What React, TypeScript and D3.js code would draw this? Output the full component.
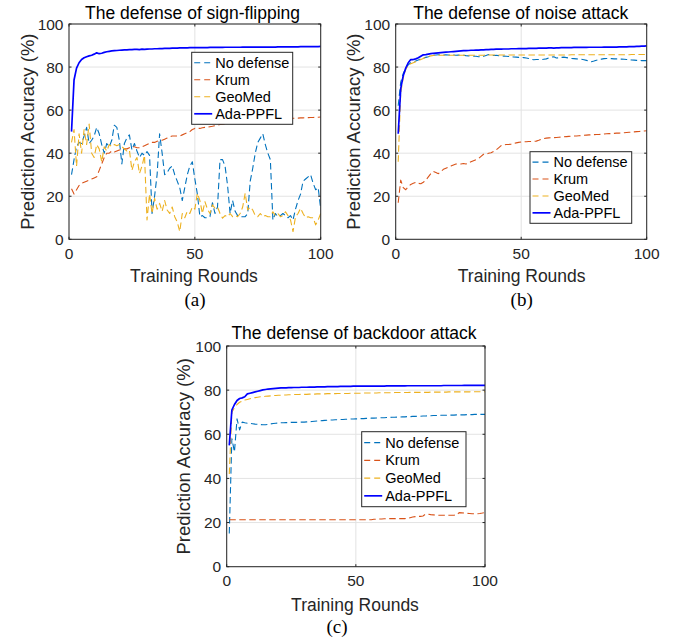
import React from "react";
import * as d3 from "d3";

// ---------- DATA ----------
const ROUNDS = Array.from({ length: 100 }, (_, i) => i + 1);
const SERIES_NAMES = ["No defense", "Krum", "GeoMed", "Ada-PPFL"];
const X_TICKS = [0, 50, 100];
const Y_TICKS = [0, 20, 40, 60, 80, 100];
const TITLES = ["The defense of sign-flipping", "The defense of noise attack", "The defense of backdoor attack"];
const CAPTIONS = ["(a)", "(b)", "(c)"];
const X_LABEL = "Training Rounds";
const Y_LABEL = "Prediction Accuracy (%)";

// (a) sign-flipping
const signNoDefense = [
  30, 37, 43, 45, 44.5, 48, 52, 44.5, 46, 48,
  52, 49, 44, 40, 44.5, 43, 46, 53, 52, 46,
  35, 44.5, 47, 48.5, 41.5, 44.5, 41, 38, 40, 39,
  40.7, 39, 12, 20, 30, 49, 40, 30, 31, 33,
  34, 30, 27, 24, 18, 24, 30, 34, 36, 28,
  21, 10.5, 11, 10, 10, 10.5, 17, 12, 15, 37,
  37, 34, 25, 12, 18, 13, 11, 10.5, 10.5, 10.5,
  12, 27, 33, 40, 45, 47, 49, 44, 40, 37,
  9, 12, 10.5, 11, 12, 11, 10, 11, 9, 14,
  18, 21, 27, 28, 29, 30, 26, 23, 24, 14,
];
const signKrum = [
  23.5, 21, 23, 25, 26, 26.5, 27, 27.5, 28, 28.5,
  29, 32, 35, 38, 40, 40, 41, 40.5, 41, 41.5,
  41.5, 42, 42, 42.5, 43, 43, 42.5, 42.5, 43, 43.5,
  44, 44.5, 45, 45, 45.5, 46, 46, 46.5, 47, 47.5,
  48, 48, 48, 48, 48.5, 49, 49.5, 50, 51, 51.5,
  51.5, 51.5, 51.8, 52, 52, 52.3, 52.5, 52.8, 53, 53.3,
  53.5, 53.6, 53.8, 54, 54, 54.2, 54.4, 54.5, 54.6, 54.8,
  55, 55, 55.1, 55.2, 55.3, 55.4, 55.5, 55.5, 55.6, 55.7,
  55.8, 55.8, 55.9, 56, 56, 56.1, 56.1, 56.2, 56.2, 56.3,
  56.3, 56.4, 56.4, 56.5, 56.5, 56.6, 56.6, 56.7, 56.7, 56.8,
];
const signGeoMed = [
  45, 51, 34, 49, 40, 51, 44, 53.5, 40, 38,
  44, 42, 36, 43, 41, 44, 43, 44, 43.5, 44,
  43, 42, 41, 41.5, 32, 36, 38, 30.6, 34, 39,
  9, 21, 12, 19, 14, 16.7, 13, 18, 13.6, 12,
  15, 10.5, 8, 3.6, 12, 10, 13, 12, 15, 14,
  21.4, 18, 12, 17.5, 14, 12, 16, 14.4, 15, 12,
  9.8, 11, 10.5, 12, 10.5, 11, 10.5, 12, 15, 21.4,
  13.6, 15, 13.6, 11, 10.5, 12, 10.5, 11, 10.5, 10.5,
  12.8, 11, 12, 10.5, 11, 12.8, 11, 9, 3.6, 10.5,
  12, 14.4, 12, 10, 10.5, 10, 10, 6.7, 9, 12,
];
const signAda = [
  50, 74, 79.5, 82, 83.5, 84.3, 84.8, 85.2, 85.5, 86,
  86.6, 86.2, 86.4, 86.8, 87.1, 87.3, 87.5, 87.6, 87.7, 87.8,
  87.9, 88, 88, 88.1, 88.1, 88.2, 88.2, 88.1, 88.3, 88.2,
  88.3, 88.4, 88.4, 88.5, 88.5, 88.6, 88.6, 88.7, 88.7, 88.7,
  88.8, 88.8, 88.8, 88.9, 88.9, 88.9, 88.9, 89, 89, 89,
  89, 89, 89, 89, 89, 89.1, 89.1, 89.1, 89.1, 89.1,
  89.1, 89.2, 89.2, 89.2, 89.2, 89.2, 89.2, 89.2, 89.3, 89.3,
  89.3, 89.3, 89.3, 89.3, 89.3, 89.3, 89.3, 89.3, 89.3, 89.3,
  89.3, 89.3, 89.4, 89.4, 89.4, 89.4, 89.4, 89.4, 89.4, 89.4,
  89.4, 89.5, 89.5, 89.5, 89.5, 89.5, 89.5, 89.5, 89.5, 89.6,
];

// (b) noise attack
const noiseNoDefense = [
  62, 73, 77, 79.5, 81, 82, 82.3, 82.8, 83.3, 83.8,
  84.2, 84.5, 84.8, 85.2, 85.5, 85.6, 85.7, 85.7, 85.6, 85.7,
  85.6, 85.5, 85.6, 85.5, 85.6, 85.4, 85.5, 85.3, 85.2, 85.3,
  85.1, 85, 84.8, 84.9, 85, 85.4, 85.8, 85.6, 85.4, 85.5,
  85.3, 85.2, 85.1, 85, 84.9, 84.8, 84.7, 84.6, 84.5, 84.5,
  84.4, 84.2, 84, 83.6, 83.4, 83.5, 83.5, 83.4, 83.6, 83.8,
  84.2, 84.6, 84.8, 84.2, 84.3, 84.5, 84.6, 84.4, 84.2, 84,
  83.9, 83.8, 83.7, 83.6, 83.4, 83.1, 82.8, 82.5, 82.8, 83.2,
  83.5, 83.7, 83.9, 84, 84, 83.9, 83.8, 83.8, 83.7, 83.7,
  83.6, 83.5, 83.4, 83.3, 83.2, 83.1, 83.1, 83, 83, 83,
];
const noiseKrum = [
  17, 27.5, 24, 23, 24.5, 25.5, 26, 26.5, 26, 25.8,
  26.5, 27.5, 29, 30.5, 31.5, 31, 30.5, 31.5, 32.5, 33,
  33.5, 34, 34.5, 35, 35, 35, 35.2, 35, 35.5, 36,
  36.5, 37, 37.5, 38.5, 39.5, 39.5, 40, 40.2, 40.8, 41.5,
  42.5, 43.5, 43.8, 44, 44, 44.2, 44.5, 44.8, 45, 45.2,
  45.3, 45.3, 45.4, 45.4, 45.5, 45.6, 46, 46.5, 46.8, 47,
  47.1, 47.2, 47.2, 47.3, 47.4, 47.5, 47.6, 47.7, 47.8, 47.9,
  48, 48, 48.1, 48.2, 48.3, 48.4, 48.5, 48.5, 48.6, 48.7,
  48.7, 48.8, 48.9, 49, 49.1, 49.1, 49.2, 49.3, 49.3, 49.4,
  49.5, 49.6, 49.7, 49.8, 49.9, 50, 50.1, 50.2, 50.3, 50.4,
];
const noiseGeoMed = [
  36, 68, 75, 79, 80.8, 81.5, 82, 82.5, 83, 83.5,
  84, 84.5, 84.9, 85.2, 85.4, 85.5, 85.5, 85.5, 85.5, 85.5,
  85.5, 85.5, 85.5, 85.5, 85.5, 85.5, 85.5, 85.5, 85.5, 85.5,
  85.5, 85.5, 85.5, 85.5, 85.5, 85.6, 85.6, 85.6, 85.6, 85.6,
  85.6, 85.6, 85.6, 85.6, 85.6, 85.6, 85.6, 85.6, 85.6, 85.6,
  85.6, 85.6, 85.6, 85.6, 85.6, 85.6, 85.6, 85.6, 85.6, 85.6,
  85.6, 85.6, 85.6, 85.6, 85.6, 85.6, 85.6, 85.6, 85.6, 85.7,
  85.7, 85.7, 85.7, 85.7, 85.7, 85.7, 85.7, 85.7, 85.7, 85.7,
  85.7, 85.7, 85.7, 85.7, 85.7, 85.7, 85.7, 85.7, 85.7, 85.7,
  85.7, 85.7, 85.7, 85.8, 85.8, 85.8, 85.8, 85.8, 85.8, 85.8,
];
const noiseAda = [
  49, 70, 76, 79.5, 82, 83.5, 83.5, 83.8, 84.3, 85,
  85.7, 85.8, 86, 86.2, 86.4, 86.5, 86.6, 86.7, 86.8, 86.9,
  87, 87.1, 87.2, 87.3, 87.4, 87.5, 87.6, 87.6, 87.7, 87.8,
  87.8, 87.9, 87.9, 88, 88, 88.1, 88.1, 88.2, 88.2, 88.3,
  88.3, 88.3, 88.4, 88.4, 88.4, 88.5, 88.5, 88.5, 88.6, 88.6,
  88.6, 88.6, 88.7, 88.7, 88.7, 88.7, 88.8, 88.8, 88.8, 88.8,
  88.9, 88.9, 88.8, 88.9, 88.9, 89, 89, 89, 89, 89,
  89.1, 89.1, 89.1, 89.1, 89.1, 89.1, 89.2, 89.2, 89.2, 89.2,
  89.2, 89.2, 89.3, 89.3, 89.3, 89.3, 89.3, 89.3, 89.4, 89.4,
  89.4, 89.4, 89.5, 89.5, 89.5, 89.6, 89.6, 89.7, 89.7, 89.8,
];

// (c) backdoor attack
const backdoorNoDefense = [
  15, 58, 52, 67, 62, 65.5, 65.2, 65, 64.9, 64.8,
  64.6, 64.5, 64.4, 64.3, 64.3, 64.5, 64.7, 64.9, 65, 65.1,
  65.2, 65.2, 65.3, 65.3, 65.4, 65.4, 65.4, 65.5, 65.5, 65.5,
  65.6, 65.7, 65.8, 65.9, 66, 66.1, 66.2, 66.3, 66.4, 66.5,
  66.5, 66.6, 66.6, 66.7, 66.7, 66.8, 66.8, 66.9, 66.9, 67,
  67, 67.1, 67.1, 67.2, 67.2, 67.3, 67.3, 67.4, 67.4, 67.5,
  67.5, 67.6, 67.6, 67.7, 67.7, 67.8, 67.8, 67.9, 67.9, 68,
  68, 68.1, 68.1, 68.2, 68.2, 68.3, 68.3, 68.4, 68.4, 68.5,
  68.5, 68.5, 68.6, 68.6, 68.6, 68.7, 68.7, 68.7, 68.8, 68.8,
  68.8, 68.8, 68.9, 68.9, 68.9, 69, 69, 69, 69, 69,
];
const backdoorKrum = [
  21.3, 21.3, 21.3, 21.3, 21.3, 21.3, 21.3, 21.3, 21.3, 21.3,
  21.3, 21.3, 21.3, 21.3, 21.3, 21.3, 21.3, 21.3, 21.3, 21.3,
  21.3, 21.3, 21.3, 21.3, 21.3, 21.3, 21.3, 21.3, 21.3, 21.3,
  21.3, 21.3, 21.3, 21.3, 21.3, 21.3, 21.3, 21.3, 21.3, 21.3,
  21.3, 21.3, 21.3, 21.3, 21.3, 21.3, 21.3, 21.3, 21.3, 21.3,
  21.3, 21.3, 21.3, 21.3, 21.3, 21.3, 21.5, 21.5, 21.6, 21.6,
  21.7, 21.7, 21.8, 21.8, 21.8, 21.8, 21.8, 21.8, 21.8, 21.9,
  22.2, 22.5, 22.7, 22.8, 22.8, 23, 23.8, 23.8, 23.6, 23.5,
  23.4, 23.3, 23.3, 23.3, 23.3, 23.3, 23.3, 23.3, 23.5, 24.5,
  24.4, 24.3, 24.2, 24.1, 24, 24, 24, 24.1, 24.3, 24.6,
];
const backdoorGeoMed = [
  42, 70, 72, 73.5, 74.5, 75, 75.5, 75.8, 76.1, 76.4,
  76.6, 76.8, 77, 77.1, 77.2, 77.3, 77.4, 77.5, 77.6, 77.7,
  77.7, 77.8, 77.8, 77.9, 77.9, 78, 78, 78, 78.1, 78.1,
  78.1, 78.2, 78.2, 78.2, 78.3, 78.3, 78.3, 78.3, 78.4, 78.4,
  78.4, 78.4, 78.5, 78.5, 78.5, 78.5, 78.5, 78.6, 78.6, 78.6,
  78.6, 78.6, 78.7, 78.7, 78.7, 78.7, 78.7, 78.7, 78.8, 78.8,
  78.8, 78.8, 78.8, 78.8, 78.9, 78.9, 78.9, 78.9, 78.9, 78.9,
  79, 79, 79, 79, 79, 79, 79, 79, 79.1, 79.1,
  79.1, 79.1, 79.1, 79.1, 79.1, 79.2, 79.2, 79.2, 79.2, 79.2,
  79.2, 79.2, 79.2, 79.2, 79.3, 79.3, 79.3, 79.3, 79.3, 79.3,
];
const backdoorAda = [
  55, 71, 73.5, 75.3, 76.2, 76.5, 77, 78.3, 78.6, 78.9,
  79.2, 79.5, 79.8, 80.1, 80.3, 80.5, 80.6, 80.7, 80.8, 80.9,
  81, 81, 81, 81.1, 81.1, 81.2, 81.2, 81.2, 81.3, 81.3,
  81.3, 81.4, 81.4, 81.4, 81.5, 81.5, 81.5, 81.5, 81.6, 81.6,
  81.6, 81.6, 81.6, 81.7, 81.7, 81.7, 81.7, 81.7, 81.8, 81.8,
  81.8, 81.8, 81.8, 81.8, 81.8, 81.8, 81.8, 81.8, 81.8, 81.8,
  81.8, 81.9, 81.9, 81.9, 81.9, 81.9, 81.9, 81.9, 81.9, 82,
  82, 82, 82, 82, 82, 82, 82, 82, 82, 82,
  82, 82, 82, 82.1, 82.1, 82.1, 82.1, 82.1, 82.1, 82.1,
  82.1, 82.2, 82.2, 82.2, 82.2, 82.2, 82.2, 82.2, 82.2, 82.2,
];

// ---------- STYLE / LAYOUT ----------
const COLORS = ["#0072BD", "#D95319", "#EDB120", "#0000FF"];
const DASHED = [true, true, true, false];
const SANS = "'Liberation Sans', Arial, Helvetica, sans-serif";
const SERIF = "'Liberation Serif', 'Times New Roman', serif";

const PANELS = [
  {
    data: [signNoDefense, signKrum, signGeoMed, signAda],
    box: { l: 69, r: 320.7, t: 24, b: 239.3 },
    titleX: 192.5, titleY: 19,
    xLabelX: 194, xLabelY: 282,
    captionX: 195, captionY: 306,
    yLabelX: 27,
    legend: { x: 191.7, y: 52.3, w: 101, h: 72 },
  },
  {
    data: [noiseNoDefense, noiseKrum, noiseGeoMed, noiseAda],
    box: { l: 395.7, r: 646.7, t: 24, b: 239.3 },
    titleX: 520.7, titleY: 19,
    xLabelX: 521.7, xLabelY: 282,
    captionX: 521.7, captionY: 306,
    yLabelX: 353.5,
    legend: { x: 530, y: 151.7, w: 101.7, h: 71.6 },
  },
  {
    data: [backdoorNoDefense, backdoorKrum, backdoorGeoMed, backdoorAda],
    box: { l: 226.7, r: 485, t: 346, b: 566.7 },
    titleX: 354, titleY: 339,
    xLabelX: 355, xLabelY: 610.5,
    captionX: 337, captionY: 633,
    yLabelX: 183,
    legend: { x: 361.7, y: 431.7, w: 104.3, h: 75 },
  },
];

function Panel({ p, idx }: { p: any; idx: number }) {
  const { box } = p;
  const x = d3.scaleLinear().domain([0, 100]).range([box.l, box.r]);
  const y = d3.scaleLinear().domain([0, 100]).range([box.b, box.t]);
  const line = d3
    .line<number>()
    .x((_, i) => x(ROUNDS[i]))
    .y((v) => y(v));
  const axisColor = "#262626";
  const gridColor = "#e3e3e3";
  const tickLen = 2.5;
  const lg = p.legend;
  const rowH = (lg.h - 4) / 4;
  return (
    <g>
      {X_TICKS.map((t) => (
        <line key={"gx" + t} x1={x(t)} x2={x(t)} y1={box.t} y2={box.b} stroke={gridColor} strokeWidth={1} />
      ))}
      {Y_TICKS.map((t) => (
        <line key={"gy" + t} x1={box.l} x2={box.r} y1={y(t)} y2={y(t)} stroke={gridColor} strokeWidth={1} />
      ))}
      <g clipPath={`url(#clip${idx})`}>
        {p.data.map((s: number[], i: number) => (
          <path
            key={i}
            d={line(s) || ""}
            fill="none"
            stroke={COLORS[i]}
            strokeWidth={DASHED[i] ? 1.1 : 1.7}
            strokeDasharray={DASHED[i] ? "6.5,3.5" : undefined}
            strokeLinejoin="round"
          />
        ))}
      </g>
      <rect x={box.l} y={box.t} width={box.r - box.l} height={box.b - box.t} fill="none" stroke={axisColor} strokeWidth={1} />
      {X_TICKS.map((t) => (
        <g key={"tx" + t}>
          <line x1={x(t)} x2={x(t)} y1={box.b} y2={box.b - tickLen} stroke={axisColor} />
          <line x1={x(t)} x2={x(t)} y1={box.t} y2={box.t + tickLen} stroke={axisColor} />
          <text x={x(t)} y={box.b + 19.5} textAnchor="middle" fontFamily={SANS} fontSize={15.5} fill="#262626">
            {t}
          </text>
        </g>
      ))}
      {Y_TICKS.map((t) => (
        <g key={"ty" + t}>
          <line x1={box.l} x2={box.l + tickLen} y1={y(t)} y2={y(t)} stroke={axisColor} />
          <line x1={box.r} x2={box.r - tickLen} y1={y(t)} y2={y(t)} stroke={axisColor} />
          <text x={box.l - 5.5} y={y(t) + 5.5} textAnchor="end" fontFamily={SANS} fontSize={15.5} fill="#262626">
            {t}
          </text>
        </g>
      ))}
      <text x={p.titleX} y={p.titleY} textAnchor="middle" fontFamily={SANS} fontSize={17.5} fill="#000">
        {TITLES[idx]}
      </text>
      <text x={p.xLabelX} y={p.xLabelY} textAnchor="middle" fontFamily={SANS} fontSize={17.5} fill="#262626">
        {X_LABEL}
      </text>
      <text
        transform={`translate(${p.yLabelX},${(box.t + box.b) / 2}) rotate(-90)`}
        textAnchor="middle"
        dominantBaseline="central"
        fontFamily={SANS}
        fontSize={18.5}
        fill="#262626"
      >
        {Y_LABEL}
      </text>
      <text x={p.captionX} y={p.captionY} textAnchor="middle" fontFamily={SERIF} fontSize={19} fill="#000">
        {CAPTIONS[idx]}
      </text>
      <rect x={lg.x} y={lg.y} width={lg.w} height={lg.h} fill="#fff" stroke={axisColor} strokeWidth={1} />
      {SERIES_NAMES.map((name, i) => {
        const cy = lg.y + 2 + rowH * (i + 0.5);
        return (
          <g key={name}>
            <line
              x1={lg.x + 2.5}
              x2={lg.x + 20.5}
              y1={cy}
              y2={cy}
              stroke={COLORS[i]}
              strokeWidth={DASHED[i] ? 1.1 : 1.7}
              strokeDasharray={DASHED[i] ? "6,4" : undefined}
            />
            <text x={lg.x + 23.5} y={cy + 5} fontFamily={SANS} fontSize={14.5} fill="#000">
              {name}
            </text>
          </g>
        );
      })}
    </g>
  );
}

export default function App() {
  return (
    <svg
      width={675}
      height={641}
      viewBox="0 0 675 641"
      style={{ position: "absolute", left: 0, top: 0, background: "#fff", display: "block" }}
    >
      <defs>
        {PANELS.map((p, i) => (
          <clipPath id={`clip${i}`} key={i}>
            <rect x={p.box.l} y={p.box.t} width={p.box.r - p.box.l} height={p.box.b - p.box.t} />
          </clipPath>
        ))}
      </defs>
      <rect x={0} y={0} width={675} height={641} fill="#fff" />
      {PANELS.map((p, i) => (
        <Panel key={i} p={p} idx={i} />
      ))}
    </svg>
  );
}
